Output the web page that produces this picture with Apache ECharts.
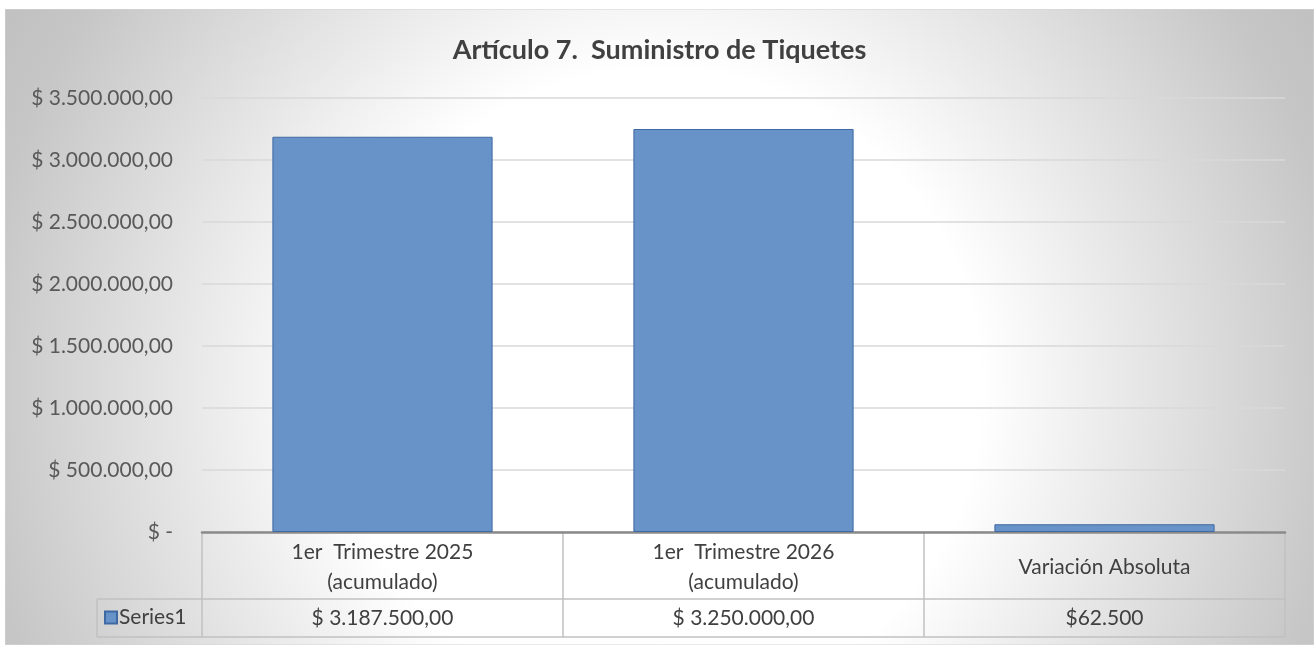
<!DOCTYPE html>
<html>
<head>
<meta charset="utf-8">
<script src="https://cdn.jsdelivr.net/npm/echarts@6/dist/echarts.min.js"></script>
<style>
  html, body { margin: 0; padding: 0; background: #ffffff; }
  #chart { position: absolute; left: 5px; top: 9px; width: 1309px; height: 636px; }
</style>
</head>
<body>
<div id="chart"></div>
<script>
// data
const categories = ['1er  Trimestre 2025\n(acumulado)', '1er  Trimestre 2026\n(acumulado)', 'Variación Absoluta'];
const values = [3187500, 3250000, 62500];
const valueFormats = ['acct', 'acct', 'short'];
const seriesName = 'Series1';
const titleText = 'Artículo 7.  Suministro de Tiquetes';
const yMax = 3500000;
const yStep = 500000;

// layout
const W = 1309, H = 636;
const gridLeft = 197, gridRight = 29, gridTop = 89, gridBottom = 113;
const plotRight = W - gridRight;
const axisY = H - gridBottom;
const row1 = axisY + 67, row2 = axisY + 105;
const legendCellLeft = 92;
const fontFam = 'Lato, "Open Sans", sans-serif';

function thousands(n) {
  return String(Math.round(n)).replace(/\B(?=(\d{3})+(?!\d))/g, '.');
}
function acct(n) {
  if (n === 0) return '$ -';
  return '$ ' + thousands(n) + ',00';
}
function fmtValue(n, kind) {
  return kind === 'short' ? '$' + thousands(n) : acct(n);
}

const chart = echarts.init(document.getElementById('chart'));

// table lines
const lineStyle = { stroke: '#c0c0c0', lineWidth: 1.5 };
const tableLines = [];
const colW = (plotRight - gridLeft) / categories.length;
tableLines.push({ type: 'line', silent: true, shape: { x1: legendCellLeft, y1: row1, x2: plotRight, y2: row1 }, style: lineStyle });
tableLines.push({ type: 'line', silent: true, shape: { x1: legendCellLeft, y1: row2, x2: plotRight, y2: row2 }, style: lineStyle });
tableLines.push({ type: 'line', silent: true, shape: { x1: legendCellLeft, y1: row1, x2: legendCellLeft, y2: row2 }, style: lineStyle });
for (let i = 0; i <= categories.length; i++) {
  const x = Math.round(gridLeft + i * colW);
  tableLines.push({ type: 'line', silent: true, shape: { x1: x, y1: axisY + 1, x2: x, y2: row2 }, style: lineStyle });
}

chart.setOption({
  animation: false,
  title: {
    text: titleText,
    left: 'center',
    top: 23,
    textStyle: { fontFamily: fontFam, fontSize: 27, fontWeight: 'bold', color: '#404040' }
  },
  legend: {
    data: [seriesName],
    left: legendCellLeft + 7,
    top: row1 + 8,
    padding: 0,
    icon: 'rect',
    itemWidth: 12,
    itemHeight: 12,
    itemGap: 2,
    textStyle: { fontFamily: fontFam, fontSize: 21, color: '#404040', padding: [0, 0, 0, -3] }
  },
  graphic: [
    {
      type: 'rect',
      silent: true,
      z: -10,
      shape: { x: 0, y: 0, width: W, height: H },
      style: {
        fill: new echarts.graphic.RadialGradient(0.5, 0.6, 1.2, [
          { offset: 0, color: '#ffffff' },
          { offset: 0.42, color: '#ffffff' },
          { offset: 0.9, color: '#c6c6c6' },
          { offset: 1, color: '#c0c0c0' }
        ]),
        stroke: '#d4d4d4',
        lineWidth: 1
      }
    }
  ].concat(tableLines),
  grid: { left: gridLeft, right: gridRight, top: gridTop, bottom: gridBottom },
  xAxis: [
    {
      type: 'category',
      data: categories,
      axisLine: { lineStyle: { color: '#8a8a8a', width: 2.5 } },
      axisTick: { show: false },
      axisLabel: {
        margin: 35,
        fontFamily: fontFam,
        fontSize: 21,
        lineHeight: 30,
        color: '#404040',
        align: 'center',
        verticalAlign: 'middle'
      }
    },
    {
      type: 'category',
      data: categories,
      position: 'bottom',
      offset: 80,
      axisLine: { show: false },
      axisTick: { show: false },
      axisLabel: {
        margin: 6,
        fontFamily: fontFam,
        fontSize: 21,
        color: '#404040',
        verticalAlign: 'middle',
        formatter: function (v, i) { return fmtValue(values[i], valueFormats[i]); }
      }
    }
  ],
  yAxis: {
    type: 'value',
    min: 0,
    max: yMax,
    interval: yStep,
    axisLine: { show: false },
    axisTick: { show: false },
    splitLine: { lineStyle: { color: '#d9d9d9', width: 1.5 } },
    axisLabel: {
      margin: 29,
      fontFamily: fontFam,
      fontSize: 21,
      color: '#595959',
      formatter: acct
    }
  },
  series: [
    {
      name: seriesName,
      type: 'bar',
      data: values,
      barCategoryGap: '39%',
      itemStyle: { color: '#6893c8', borderColor: '#3f69a3', borderWidth: 1 }
    }
  ]
});
</script>
</body>
</html>
